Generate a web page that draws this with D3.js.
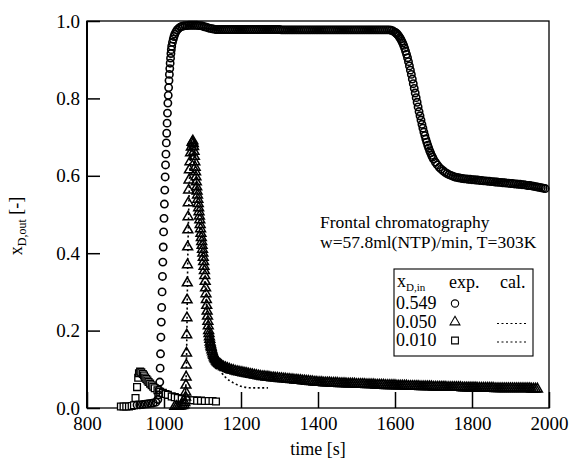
<!DOCTYPE html>
<html>
<head>
<meta charset="utf-8">
<script src="https://cdn.jsdelivr.net/npm/d3@7"></script>
<style>
    body { margin: 0; background: #fff; }
    svg text { font-family: "Liberation Serif", "Times New Roman", serif; fill: #000; }
</style>
</head>
<body>
<svg id="chart" width="569" height="463"></svg>
<script>
// x_D,in = 0.549, measured (circles): [time s, x_D,out]
const seriesHigh = [
    [930,.008],[937,.008],[944,.009],[951,.010],[958,.011],[965,.012],[972,.013],[979,.015],
    [984,.022],[986,.034],[987,.047],[989,.067],[990,.103],[991,.140],[992,.183],[993,.222],
    [994,.260],[995,.300],[996,.340],[997,.377],[998,.416],[999,.455],[1000,.490],[1001,.527],
    [1002,.563],[1003,.597],[1004,.628],[1005,.656],[1006,.685],[1007,.710],[1008,.736],[1009,.762],
    [1010,.788],[1011,.808],[1012,.828],[1013,.846],[1014,.862],[1015,.877],[1016,.891],[1017,.904],
    [1018,.916],[1019,.926],[1020,.935],[1022,.945],[1024,.953],[1026,.960],[1028,.966],[1031,.972],
    [1034,.977],[1038,.981],[1042,.984],[1046,.986],[1050,.987],[1055,.988],[1060,.988],[1065,.989],
    [1070,.989],[1075,.989],[1080,.989],[1085,.989],[1090,.988],[1095,.988],[1100,.987],[1105,.985],
    [1110,.984],[1115,.982],[1120,.981],[1125,.980],[1130,.979],[1135,.978],[1140,.978],
    [1145,.978],[1150,.978],[1155,.978],[1160,.978],[1165,.978],[1170,.978],[1175,.978],[1180,.978],
    [1185,.978],[1190,.978],[1195,.978],[1200,.978],[1205,.978],[1210,.978],[1215,.978],[1220,.978],
    [1225,.978],[1230,.978],[1235,.978],[1240,.978],[1245,.978],[1250,.978],[1255,.978],[1260,.978],
    [1265,.978],[1270,.978],[1275,.978],[1280,.978],[1285,.978],[1290,.978],[1295,.978],[1300,.978],
    [1305,.977],[1310,.977],[1315,.977],[1320,.977],[1325,.977],[1330,.977],[1335,.977],[1340,.977],
    [1345,.977],[1350,.977],[1355,.977],[1360,.977],[1365,.977],[1370,.977],[1375,.977],[1380,.977],
    [1385,.977],[1390,.977],[1395,.977],[1400,.977],[1405,.977],[1410,.977],[1415,.977],[1420,.977],
    [1425,.977],[1430,.977],[1435,.977],[1440,.977],[1445,.977],[1450,.977],[1455,.977],[1460,.977],
    [1465,.977],[1470,.977],[1475,.977],[1480,.977],[1485,.977],[1490,.977],[1495,.977],[1500,.977],
    [1505,.977],[1510,.977],[1515,.977],[1520,.977],[1525,.977],[1530,.977],[1535,.977],[1540,.977],
    [1545,.977],[1550,.977],[1555,.977],[1560,.977],[1565,.977],[1570,.977],[1575,.977],[1580,.977],
    [1585,.977],[1590,.976],[1595,.974],[1600,.971],[1602.5,.969],[1605,.967],[1607.5,.964],[1610,.961],
    [1612.5,.957],[1615,.953],[1617.5,.948],[1620,.943],[1622.5,.937],[1625,.930],[1627.5,.922],[1630,.914],
    [1632.5,.905],[1635,.895],[1637.5,.884],[1640,.873],[1642.5,.862],[1645,.850],[1647.5,.838],[1650,.826],
    [1652.5,.814],[1655,.802],[1657.5,.790],[1660,.778],[1662.5,.766],[1665,.755],[1667.5,.744],[1670,.733],
    [1672.5,.723],[1675,.713],[1677.5,.704],[1680,.695],[1682.5,.687],[1685,.679],[1687.5,.672],[1690,.665],
    [1692.5,.659],[1695,.653],[1697.5,.648],[1700,.643],
    [1705,.635],[1710,.628],[1715,.622],[1720,.617],[1725,.613],[1730,.609],[1735,.606],[1740,.603],
    [1745,.601],[1750,.599],[1755,.597],[1760,.596],[1765,.595],[1770,.594],[1775,.593],[1780,.592],
    [1785,.592],[1790,.591],[1795,.591],[1800,.590],[1805,.590],[1810,.589],[1815,.589],[1820,.588],
    [1825,.588],[1830,.587],[1835,.587],[1840,.586],[1845,.586],[1850,.585],[1855,.585],[1860,.584],
    [1865,.584],[1870,.583],[1875,.583],[1880,.582],[1885,.582],[1890,.581],[1895,.581],[1900,.580],
    [1905,.580],[1910,.579],[1915,.579],[1920,.578],[1925,.578],[1930,.577],[1935,.577],[1940,.576],
    [1945,.575],[1950,.575],[1955,.574],[1960,.573],[1965,.572],[1970,.571],[1975,.570],[1980,.569],
    [1985,.568],[1990,.567]
];

// x_D,in = 0.050, measured (triangles)
const seriesMid = [
    [1028,.004],[1033,.004],[1038,.004],[1043,.005],[1048,.006],[1052,.008],[1054,.014],
    [1056,.028],[1056.5,.041],[1057,.059],[1057.5,.080],[1058,.111],[1058.5,.142],[1059,.189],[1059.5,.233],
    [1060,.279],[1060.5,.323],[1061,.370],[1061.5,.416],[1062,.460],[1062.5,.494],[1063,.530],[1064,.563],
    [1065,.589],[1066,.615],[1067.5,.636],[1069,.659],[1071,.674],[1073,.686],[1075,.690],
    [1076,.683],[1077,.675],[1078,.663],[1079,.650],[1080,.636],[1081,.622],[1082,.610],[1083,.597],
    [1084,.584],[1085,.571],[1086,.560],[1087,.550],[1088,.539],[1089,.528],[1090,.517],[1091,.507],
    [1092,.496],[1093,.486],[1094,.474],[1095,.463],[1096,.451],[1097,.440],[1098,.430],[1099,.420],
    [1100,.410],[1101,.400],[1102,.389],[1103,.378],[1104,.366],[1105,.355],[1106,.342],[1107,.327],
    [1108,.310],[1109,.295],[1110,.280],[1111,.265],[1112,.250],[1113,.237],[1114,.224],[1115,.212],
    [1116,.200],[1117,.192],[1118,.184],[1119,.177],[1120,.170],[1121,.165],[1122,.160],[1123,.156],
    [1124.5,.150],[1126,.145],[1127.5,.140],[1129,.136],[1130.5,.132],[1132,.129],[1133.5,.126],[1135,.124],
    [1136.5,.121],[1138,.119],[1140,.117],[1142,.115],[1144,.113],[1146,.112],[1148,.110],[1150,.109],
    [1155,.106],[1160,.104],[1165,.102],[1170,.100],[1175,.098],[1180,.097],[1185,.095],[1190,.094],
    [1195,.093],[1200,.092],[1205,.091],[1210,.090],[1215,.089],[1220,.088],[1225,.087],[1230,.086],
    [1235,.085],[1240,.084],[1245,.083],[1250,.082],[1255,.081],[1260,.081],[1265,.080],[1270,.080],
    [1275,.079],[1280,.078],[1285,.078],[1290,.077],[1295,.077],[1300,.076],[1305,.076],[1310,.075],
    [1315,.075],[1320,.074],[1325,.074],[1330,.073],[1335,.073],[1340,.072],[1345,.072],[1350,.071],
    [1355,.071],[1360,.070],[1365,.070],[1370,.069],[1375,.069],[1380,.068],[1385,.068],[1390,.067],
    [1395,.067],[1400,.066],[1405,.066],[1410,.066],[1415,.065],[1420,.065],[1425,.065],[1430,.065],
    [1435,.064],[1440,.064],[1445,.064],[1450,.064],[1455,.063],[1460,.063],[1465,.063],[1470,.063],
    [1475,.062],[1480,.062],[1485,.062],[1490,.062],[1495,.062],[1500,.061],[1505,.061],[1510,.061],
    [1515,.061],[1520,.061],[1525,.060],[1530,.060],[1535,.060],[1540,.060],[1545,.060],[1550,.059],
    [1555,.059],[1560,.059],[1565,.059],[1570,.059],[1575,.058],[1580,.058],[1585,.058],[1590,.058],
    [1595,.058],[1600,.058],[1605,.057],[1610,.057],[1615,.057],[1620,.057],[1625,.057],[1630,.057],
    [1635,.056],[1640,.056],[1645,.056],[1650,.056],[1655,.056],[1660,.056],[1665,.055],[1670,.055],
    [1675,.055],[1680,.055],[1685,.055],[1690,.055],[1695,.055],[1700,.054],[1705,.054],[1710,.054],
    [1715,.054],[1720,.054],[1725,.054],[1730,.054],[1735,.053],[1740,.053],[1745,.053],[1750,.053],
    [1755,.053],[1760,.053],[1765,.053],[1770,.053],[1775,.052],[1780,.052],[1785,.052],[1790,.052],
    [1795,.052],[1800,.052],[1805,.052],[1810,.052],[1815,.051],[1820,.051],[1825,.051],[1830,.051],
    [1835,.051],[1840,.051],[1845,.051],[1850,.051],[1855,.051],[1860,.050],[1865,.050],[1870,.050],
    [1875,.050],[1880,.050],[1885,.050],[1890,.050],[1895,.050],[1900,.050],[1905,.050],[1910,.050],
    [1915,.050],[1920,.050],[1925,.050],[1930,.050],[1935,.050],[1940,.050],[1945,.050],[1950,.050],
    [1955,.049],[1960,.049],[1965,.049],[1970,.049]
];

// x_D,in = 0.010, measured (squares)
const seriesLow = [
    [888,.004],[895,.004],[902,.004],[909,.004],[916,.005],[922,.007],[926,.026],[930,.054],
    [933,.078],[935,.090],[938,.094],[941,.092],[945,.088],[948,.084],[951,.079],[954,.075],
    [957,.071],[960,.067],[964,.063],[968,.059],[972,.055],[976,.051],[983,.046],[990,.042],
    [997,.039],[1004,.036],[1010,.034],[1020,.030],[1028,.028],[1036,.026],[1046,.023],[1056,.021],
    [1066,.020],[1076,.020],[1086,.019],[1096,.019],[1106,.018],[1116,.018],[1126,.018],[1135,.017]
];

// calculated curve for x_D,in = 0.050 (dashed)
const calcMid = [
    [1054,.010],[1058,.100],[1062,.400],[1066,.580],[1071,.670],[1075,.685],[1080,.640],[1090,.500],
    [1100,.390],[1110,.270],[1120,.170],[1130,.128],[1140,.108],[1150,.091],[1160,.079],[1170,.071],
    [1180,.065],[1190,.060],[1200,.056],[1215,.053],[1230,.052],[1250,.052],[1270,.052]
];

const xTicks = [800, 1000, 1200, 1400, 1600, 1800, 2000];
const yTicks = [0, 0.2, 0.4, 0.6, 0.8, 1.0];
const legendValues = ["0.549", "0.050", "0.010"];
const noteLines = ["Frontal chromatography", "w=57.8ml(NTP)/min, T=303K"];

const svg = d3.select("#chart");
const plot = { left: 87, right: 549, top: 21, bottom: 408 };

const x = d3.scaleLinear().domain([800, 2000]).range([plot.left, plot.right]);
const y = d3.scaleLinear().domain([0, 1]).range([plot.bottom, plot.top]);

// axes, ticks pointing inward
const gx = svg.append("g")
    .attr("transform", `translate(0,${plot.bottom})`)
    .call(d3.axisBottom(x).tickValues(xTicks).tickSize(-16).tickPadding(9).tickFormat(d3.format("d")));
const gy = svg.append("g")
    .attr("transform", `translate(${plot.left},0)`)
    .call(d3.axisLeft(y).tickValues(yTicks).tickSize(-13).tickPadding(7).tickFormat(d3.format(".1f")));
[gx, gy].forEach(g => {
    g.attr("font-size", 19).attr("font-family", null);
    g.select(".domain").remove();
    g.selectAll(".tick line").attr("stroke", "#000").attr("stroke-width", 1.5);
});

// frame
svg.append("rect")
    .attr("x", plot.left).attr("y", plot.top)
    .attr("width", plot.right - plot.left).attr("height", plot.bottom - plot.top)
    .attr("fill", "none").attr("stroke", "#000").attr("stroke-width", 1.3);
svg.append("line")
    .attr("x1", plot.left).attr("x2", plot.left).attr("y1", plot.top).attr("y2", plot.bottom)
    .attr("stroke", "#000").attr("stroke-width", 2);

const sym = (type, size) => d3.symbol().type(type).size(size)();
const shapes = {
    circle: sym(d3.symbolCircle, 42),
    triangle: sym(d3.symbolTriangle, 42),
    square: sym(d3.symbolSquare, 46)
};

// open markers; dense runs of outlines merge into the black band of the scan
function drawMarkers(data, shape, width, fill) {
    svg.append("g").selectAll("path")
        .data(data)
        .join("path")
        .attr("transform", d => `translate(${x(d[0])},${y(d[1])})`)
        .attr("d", shape)
        .attr("fill", fill)
        .attr("stroke", "#000")
        .attr("stroke-width", width);
}

drawMarkers(seriesLow, shapes.square, 1.3, "#fff");
drawMarkers(seriesHigh, shapes.circle, 1.6, "none");

svg.append("path")
    .datum(calcMid)
    .attr("d", d3.line().x(d => x(d[0])).y(d => y(d[1])).curve(d3.curveMonotoneX))
    .attr("fill", "none").attr("stroke", "#000").attr("stroke-width", 1.6)
    .attr("stroke-dasharray", "2,2.5");

drawMarkers(seriesMid, shapes.triangle, 1.5, "none");

// annotation
svg.append("text")
    .attr("font-size", 17.5)
    .selectAll("tspan")
    .data(noteLines)
    .join("tspan")
    .attr("x", 320)
    .attr("y", (d, i) => 228 + i * 19.5)
    .text(d => d);

// legend
const lg = svg.append("g");
lg.append("rect")
    .attr("x", 394).attr("y", 269).attr("width", 139).attr("height", 87)
    .attr("fill", "#fff").attr("stroke", "#000").attr("stroke-width", 1.1);
const head = lg.append("text").attr("x", 397).attr("y", 287).attr("font-size", 18);
head.append("tspan").text("x");
head.append("tspan").attr("font-size", 11).attr("dy", 4).text("D,in");
lg.append("text").attr("x", 449).attr("y", 288).attr("font-size", 18).text("exp.");
lg.append("text").attr("x", 500).attr("y", 288).attr("font-size", 18).text("cal.");

const legendShapes = [shapes.circle, shapes.triangle, shapes.square];
legendValues.forEach((v, i) => {
    const base = 309 + i * 18.5;
    lg.append("text").attr("x", 396).attr("y", base).attr("font-size", 18).text(v);
    lg.append("path")
        .attr("transform", `translate(455,${base - 5.5})`)
        .attr("d", legendShapes[i])
        .attr("fill", "#fff").attr("stroke", "#000").attr("stroke-width", 1.1);
    if (i > 0) {
        lg.append("line")
            .attr("x1", 497).attr("x2", 528).attr("y1", base - 4).attr("y2", base - 4)
            .attr("stroke", "#000").attr("stroke-width", 1.2).attr("stroke-dasharray", "2,2.5");
    }
});

// axis titles
svg.append("text")
    .attr("x", (plot.left + plot.right) / 2).attr("y", 455)
    .attr("text-anchor", "middle").attr("font-size", 18)
    .text("time [s]");

const yt = svg.append("text")
    .attr("transform", "translate(22,226) rotate(-90)")
    .attr("text-anchor", "middle").attr("font-size", 18);
yt.append("tspan").text("x");
yt.append("tspan").attr("font-size", 12).attr("dy", 4).text("D,out");
yt.append("tspan").attr("dy", -4).text(" [-]");
</script>
</body>
</html>
